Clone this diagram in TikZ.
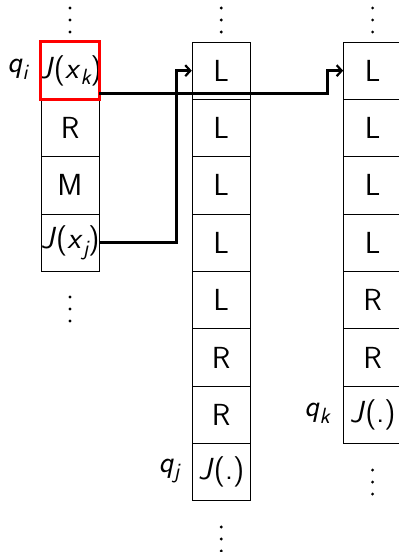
\documentclass[tikz,border=0pt]{standalone}
\usepackage{fontspec}
\usetikzlibrary{arrows.meta,calc}
\newcommand{\vv}[1]{\textit{#1}}
\newcommand{\sbs}[1]{\raisebox{-0.22em}{\fontsize{22}{22}\selectfont\itshape #1}}
\begin{document}
\begin{tikzpicture}[x=1pt,y=-1pt,
  cell/.style={draw=black,line width=0.9pt,minimum width=58pt,minimum height=57.35pt,inner sep=0pt,
    font=\fontsize{30.5}{31}\selectfont\sffamily},
  lbl/.style={inner sep=0pt,font=\fontsize{30.5}{31}\selectfont\sffamily},
  arr/.style={line width=2.8pt,-{Straight Barb[length=5pt,width=11pt,line width=2.2pt]}},
  dot/.style={fill=black,circle,inner sep=0pt,minimum size=3.2pt}]
\useasboundingbox (0,0) rectangle (399,552);
% column 1
\foreach \t [count=\i] in {{\vv{J}(\vv{x}\sbs{k})},R,M,{\vv{J}(\vv{x}\sbs{j})}}
  \node[cell] (a\i) at (70,{42+57.35*(\i-0.5)}) {\makebox[0pt]{\t}};
% column 2
\foreach \t [count=\i] in {L,L,L,L,L,R,R,{\vv{J}(.)}}
  \node[cell] (b\i) at (221.2,{42+57.35*(\i-0.5)}) {\makebox[0pt]{\t}};
% column 3
\foreach \t [count=\i] in {L,L,L,L,R,R,{\vv{J}(.)}}
  \node[cell] (c\i) at (372.6,{42+57.35*(\i-0.5)}) {\makebox[0pt]{\t}};
% red highlight
\draw[red,line width=3pt] (a1.south west) rectangle (a1.north east);
% labels
\node[lbl] (qi) at (17.5,69) {\vv{q}\sbs{i}};
\node[lbl] (qj) at (169,471) {\vv{q}\sbs{j}};
\node[lbl] (qk) at (317,413) {\vv{q}\sbs{k}};
% dots
\foreach \x/\y in {70/8,221.2/8,372.6/8,70/297,221.2/527,372.6/470}{
  \node[dot] at (\x,\y) {};
  \node[dot] at (\x,{\y+12}) {};
  \node[dot] at (\x,{\y+24}) {};
}
% arrows
\draw[arr] ([yshift=-22.5pt]a1.east) -| ([xshift=-16pt]c1.west) -- (c1.west);
\draw[arr] (a4.east) -| ([xshift=-15.6pt]b1.west) -- (b1.west);
\end{tikzpicture}
\end{document}
